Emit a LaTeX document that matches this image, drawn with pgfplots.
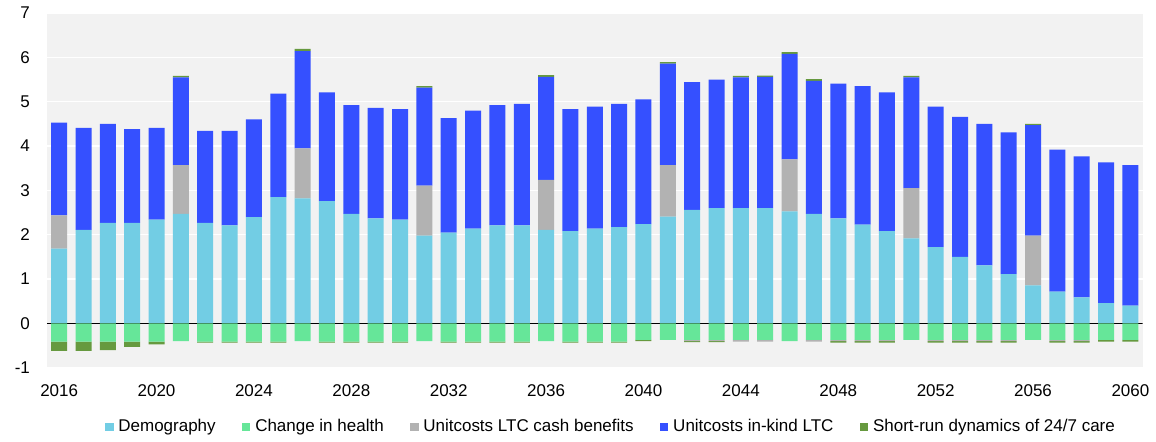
\documentclass[border=0pt]{standalone}
\usepackage{pgfplots}
\pgfplotsset{compat=1.18}
\usepackage{pgfplotstable}
\usepackage{fontspec}
\setmainfont{Liberation Sans}

\definecolor{demo}{RGB}{114,205,228}
\definecolor{health}{RGB}{102,230,153}
\definecolor{cash}{RGB}{178,178,178}
\definecolor{inkind}{RGB}{53,80,255}
\definecolor{shortrun}{RGB}{102,153,63}
\definecolor{bg}{RGB}{242,242,242}

% positive parts: demography, cash benefits, in-kind, short-run
\pgfplotstableread{
year demo cash inkind sr
2016 1.69 0.75 2.09 0
2017 2.11 0 2.30 0
2018 2.27 0 2.23 0
2019 2.27 0 2.11 0
2020 2.34 0 2.07 0
2021 2.47 1.10 1.98 0.03
2022 2.27 0 2.07 0
2023 2.21 0 2.13 0
2024 2.40 0 2.20 0
2025 2.85 0 2.33 0
2026 2.82 1.13 2.19 0.05
2027 2.76 0 2.45 0
2028 2.47 0 2.45 0
2029 2.37 0 2.49 0
2030 2.34 0 2.49 0
2031 1.98 1.13 2.21 0.03
2032 2.05 0 2.58 0
2033 2.14 0 2.66 0
2034 2.21 0 2.71 0
2035 2.21 0 2.74 0
2036 2.11 1.13 2.32 0.04
2037 2.08 0 2.75 0
2038 2.14 0 2.75 0
2039 2.17 0 2.78 0
2040 2.24 0 2.81 0
2041 2.41 1.16 2.29 0.03
2042 2.56 0 2.88 0
2043 2.60 0 2.90 0
2044 2.60 0 2.95 0.03
2045 2.60 0 2.96 0.03
2046 2.53 1.17 2.38 0.04
2047 2.47 0 3.00 0.04
2048 2.37 0 3.04 0
2049 2.23 0 3.12 0
2050 2.08 0 3.13 0
2051 1.92 1.13 2.50 0.03
2052 1.72 0 3.17 0
2053 1.50 0 3.16 0
2054 1.31 0 3.19 0
2055 1.11 0 3.20 0
2056 0.86 1.12 2.49 0.03
2057 0.72 0 3.20 0
2058 0.59 0 3.18 0
2059 0.46 0 3.17 0
2060 0.40 0 3.17 0
}\pos

% negative parts: change in health, cash benefits, short-run
\pgfplotstableread{
year health cash sr
2016 -0.41 0 -0.21
2017 -0.41 0 -0.21
2018 -0.41 0 -0.19
2019 -0.41 0 -0.12
2020 -0.41 0 -0.06
2021 -0.40 0 0
2022 -0.41 0 -0.02
2023 -0.41 0 -0.02
2024 -0.41 0 -0.02
2025 -0.41 0 -0.02
2026 -0.40 0 0
2027 -0.41 0 -0.02
2028 -0.41 0 -0.02
2029 -0.41 0 -0.02
2030 -0.41 0 -0.02
2031 -0.40 0 0
2032 -0.41 0 -0.02
2033 -0.41 0 -0.02
2034 -0.41 0 -0.02
2035 -0.41 0 -0.02
2036 -0.40 0 0
2037 -0.41 0 -0.02
2038 -0.41 0 -0.02
2039 -0.41 0 -0.02
2040 -0.37 0 -0.03
2041 -0.37 0 0
2042 -0.37 -0.03 -0.02
2043 -0.37 -0.03 -0.02
2044 -0.37 -0.04 0
2045 -0.37 -0.04 0
2046 -0.40 0 0
2047 -0.37 -0.04 0
2048 -0.37 -0.03 -0.03
2049 -0.37 -0.03 -0.03
2050 -0.37 -0.03 -0.03
2051 -0.37 0 0
2052 -0.37 -0.03 -0.03
2053 -0.37 -0.03 -0.03
2054 -0.37 -0.03 -0.03
2055 -0.37 -0.03 -0.03
2056 -0.37 0 0
2057 -0.37 -0.03 -0.03
2058 -0.37 -0.03 -0.03
2059 -0.37 0 -0.04
2060 -0.37 0 -0.04
}\neg

\pgfplotsset{
  base/.style={
    width=548pt, height=177.5pt, scale only axis,
    xmin=2015.5, xmax=2060.5, ymin=-1, ymax=7,
    ybar stacked, bar width=8pt,
  },
}

\begin{document}
\begin{tikzpicture}[font=\fontsize{8.5}{10}\selectfont]
\begin{axis}[
  base, name=main,
  axis background/.style={fill=bg},
  axis line style={draw=none},
  tick style={draw=none},
  ytick={-1,0,...,7},
  xtick={2016,2020,...,2060},
  ymajorgrids,
  grid style={white, line width=0.7pt},
  /pgf/number format/assume math mode=true,
  x tick label style={/pgf/number format/1000 sep={}, yshift=-5pt},
  y tick label style={xshift=-5pt},
  legend image code/.code={\fill[#1, draw=none] (0pt,-2.1pt) rectangle (4.2pt,2.1pt); \path (5.2pt,0pt);},
  legend style={at={(0.515,-0.166)}, anchor=center, legend columns=-1,
    draw=none, fill=none, /tikz/every even column/.append style={column sep=12pt},
    nodes={inner sep=1.2pt}},
]
\addlegendimage{fill=demo}
\addlegendentry{Demography}
\addlegendimage{fill=health}
\addlegendentry{Change in health}
\addlegendimage{fill=cash}
\addlegendentry{Unitcosts LTC cash benefits}
\addlegendimage{fill=inkind}
\addlegendentry{Unitcosts in-kind LTC}
\addlegendimage{fill=shortrun}
\addlegendentry{Short-run dynamics of 24/7 care}
\addplot[fill=demo, draw=none, forget plot] table[x=year, y=demo] {\pos};
\addplot[fill=cash, draw=none, forget plot] table[x=year, y=cash] {\pos};
\addplot[fill=inkind, draw=none, forget plot] table[x=year, y=inkind] {\pos};
\addplot[fill=shortrun, draw=none, forget plot] table[x=year, y=sr] {\pos};
\end{axis}
\begin{axis}[base, hide axis]
\addplot[fill=health, draw=none] table[x=year, y=health] {\neg};
\addplot[fill=cash, draw=none] table[x=year, y=cash] {\neg};
\addplot[fill=shortrun, draw=none] table[x=year, y=sr] {\neg};
\draw[black, line width=0.7pt] (axis cs:2015.5,0) -- (axis cs:2060.5,0);
\end{axis}
\path (main.south west) ++(-23.5pt,-37pt) (main.north east) ++(6.5pt,6.5pt);
\end{tikzpicture}
\end{document}
